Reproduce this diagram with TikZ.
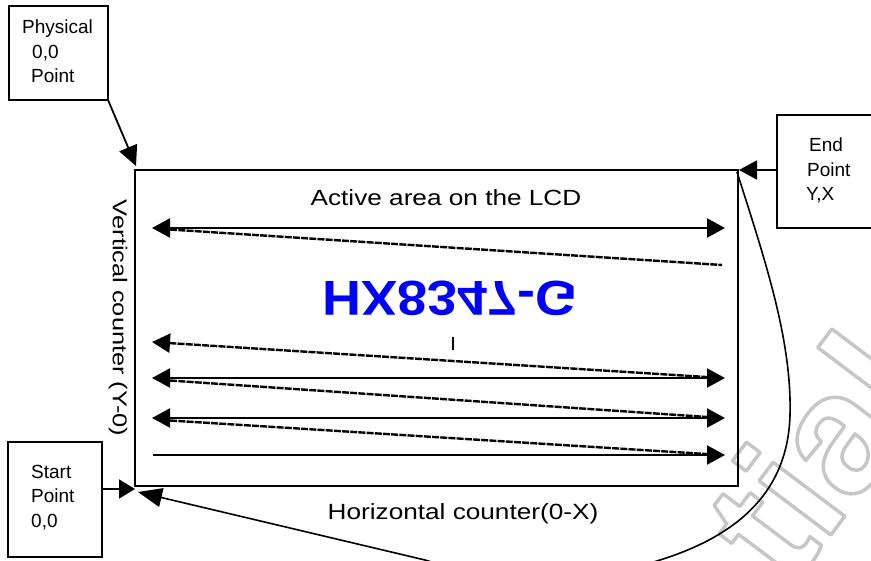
\documentclass[tikz,border=0pt]{standalone}
\usepackage{fontspec}
\setmainfont{Liberation Sans}
\usetikzlibrary{arrows.meta}
\definecolor{lcdblue}{RGB}{0,0,255}
\newcommand{\hollowtext}[1]{\special{pdf:literal direct 1 Tr 3.5 w 0.78 0.78 0.78 RG 1 j}#1}
\begin{document}
\begin{tikzpicture}[x=1pt,y=-1pt,
  boxframe/.style={draw,line width=1.5pt,inner sep=0pt,outer sep=0pt},
  boxtext/.style={font=\fontsize{19}{24.5}\selectfont,align=left,inner sep=0pt,anchor=north west},
  lbl/.style={font=\fontsize{22}{24}\selectfont,inner sep=0pt},
  tipa/.style={arrows={-Triangle[length=18pt,width=19pt]}},
  tipb/.style={arrows={Triangle[length=18pt,width=19pt]-Triangle[length=18pt,width=19pt]}},
  tipl/.style={arrows={Triangle[length=18pt,width=19pt]-}},
  rowline/.style={line width=2.2pt},
  scan/.style={line width=2.4pt,dash pattern=on 7pt off 1.2pt},
  conn/.style={line width=1.8pt}]
\useasboundingbox (0,0) rectangle (871,561);
\fill[white] (0,0) rectangle (871,561);

% watermark
\begin{scope}
\clip (0,0) rectangle (871,561);
\node[text=white,font=\fontsize{170}{170}\selectfont\bfseries,rotate=53,inner sep=0pt] (wmark) at (815,455) {\hollowtext{tial}};
\end{scope}

% main LCD frame
\node[boxframe,line width=2pt,minimum width=603pt,minimum height=316pt,anchor=north west] (lcd) at (135,170) {};

% boxes
\node[boxframe,minimum width=99pt,minimum height=94pt,anchor=north west] (phys) at (9,6) {};
\node[boxtext] (physt) at (22,20) {Physical\\\hspace*{10pt}0,0\\\hspace*{9pt}Point};

\begin{scope}
\clip (0,0) rectangle (871,561);
\node[boxframe,minimum width=110pt,minimum height=113pt,anchor=north west] (endp) at (777,115) {};
\end{scope}
\node[boxtext] (endt) at (806,138) {\hspace*{3pt}End\\\hspace*{1pt}Point\\Y,X};

\node[boxframe,minimum width=94pt,minimum height=115pt,anchor=north west] (startp) at (8,442) {};
\node[boxtext] (startt) at (31,465) {Start\\Point\\0,0};

% labels
\node[lbl] (active) at (446,198) {\scalebox{1.19}[1]{Active area on the LCD}};
\node[lbl] (horiz) at (463,514) {\scalebox{1.19}[1]{Horizontal counter(0-X)}};
\node[lbl,font=\fontsize{20}{24}\selectfont,rotate=-90] (vert) at (118,318) {\scalebox{1.27}[1]{Vertical counter (Y-0)}};
\node[font=\fontsize{49}{49}\selectfont\bfseries,text=lcdblue,inner sep=0pt] (chip) at (450,298) {\scalebox{1.1}[-1]{HX8347-G}};

% scan rows
\coordinate (r1l) at (152,228); \coordinate (r1r) at (725,228);
\coordinate (d1a) at (162,229); \coordinate (d1b) at (722,265);
\coordinate (r2l) at (152,342); \coordinate (d2b) at (722,378);
\coordinate (r3l) at (152,378); \coordinate (r3r) at (725,378);
\coordinate (d3a) at (162,380); \coordinate (d3b) at (722,418);
\coordinate (r4l) at (152,418); \coordinate (r4r) at (725,418);
\coordinate (d4a) at (162,420); \coordinate (d4b) at (722,455);
\coordinate (r5l) at (153,455); \coordinate (r5r) at (725,455);
\coordinate (ticka) at (453,337); \coordinate (tickb) at (453,350);

\draw[rowline,tipb] (r1l) -- (r1r);
\draw[scan] (d1a) -- (d1b);
\draw[scan,tipl] (r2l) -- (d2b);
\draw[rowline,tipb] (r3l) -- (r3r);
\draw[scan] (d3a) -- (d3b);
\draw[rowline,tipb] (r4l) -- (r4r);
\draw[scan] (d4a) -- (d4b);
\draw[rowline,tipa] (r5l) -- (r5r);
\draw[line width=1.5pt] (ticka) -- (tickb);

% connectors
\coordinate (physend) at (136,166);
\draw[conn,arrows={-Triangle[length=20pt,width=19pt]}] (phys.south east) -- (physend);
\coordinate (endtip) at (739,170);
\draw[conn,arrows={-Triangle[length=18pt,width=19pt]}] (endp.west |- endtip) -- (endtip);
\coordinate (starttip) at (135,489);
\draw[conn,arrows={-Triangle[length=16pt,width=19pt]}] (startp.east |- starttip) -- (starttip);

\coordinate (ltop) at (737,172);
\coordinate (lbot) at (138,492);
\begin{scope}
\clip (0,0) rectangle (871,561);
\draw[line width=1.6pt,arrows={-Triangle[length=24pt,width=19pt]}] (ltop) .. controls (765,260) and (792,340) .. (790,415)
  .. controls (788,490) and (740,535) .. (660,560)
  .. controls (600,580) and (480,578) .. (425,560) -- (lbot);
\end{scope}
\end{tikzpicture}
\end{document}
